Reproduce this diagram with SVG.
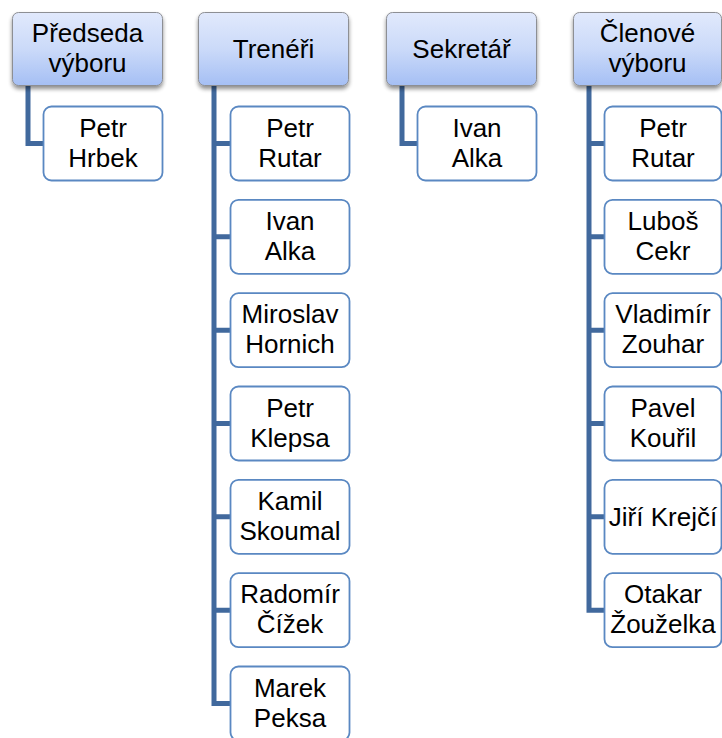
<svg xmlns="http://www.w3.org/2000/svg" width="722" height="738" viewBox="0 0 722 738">
<defs>
<linearGradient id="hg" x1="0" y1="0" x2="0" y2="1">
<stop offset="0" stop-color="#e1e9fc"/>
<stop offset="0.5" stop-color="#cbdaf9"/>
<stop offset="1" stop-color="#a5bff4"/>
</linearGradient>
<filter id="sh" x="-10%" y="-10%" width="120%" height="130%">
<feGaussianBlur in="SourceAlpha" stdDeviation="2"/>
<feOffset dx="0" dy="2.5" result="b"/>
<feComponentTransfer><feFuncA type="linear" slope="0.45"/></feComponentTransfer>
<feMerge><feMergeNode/><feMergeNode in="SourceGraphic"/></feMerge>
</filter>
</defs>
<style>
.hd{fill:url(#hg);stroke:#8d8f94;stroke-width:1;filter:url(#sh)}
.ch{fill:#ffffff;stroke:#5a88c2;stroke-width:1.8}
.t{font-family:"Liberation Sans",Arial,sans-serif;font-size:26px;fill:#000;text-anchor:middle}
.cn{fill:none;stroke:#41699d;stroke-width:5;stroke-linejoin:miter;stroke-linecap:butt}
</style>
<g id="connectors">
<path class="cn" d="M28 86 V143.5 H44"/>
<path class="cn" d="M214 86 V703.5 H231 M214 143.5 H231 M214 236.8 H231 M214 330.2 H231 M214 423.5 H231 M214 516.8 H231 M214 610.2 H231"/>
<path class="cn" d="M402 86 V143.5 H418"/>
<path class="cn" d="M589 86 V610.2 H605 M589 143.5 H605 M589 236.8 H605 M589 330.2 H605 M589 423.5 H605 M589 516.8 H605"/>
</g>
<g id="h1"><rect class="hd" x="12.5" y="12.5" width="150" height="73" rx="6"/><text class="t" x="87.5" y="42">Předseda</text><text class="t" x="87.5" y="72">výboru</text></g>
<g id="h2"><rect class="hd" x="198.5" y="12.5" width="150" height="73" rx="6"/><text class="t" x="273.5" y="58">Trenéři</text></g>
<g id="h3"><rect class="hd" x="386.5" y="12.5" width="150" height="73" rx="6"/><text class="t" x="461.5" y="58">Sekretář</text></g>
<g id="h4"><rect class="hd" x="573.5" y="12.5" width="148" height="73" rx="6"/><text class="t" x="647.5" y="42">Členové</text><text class="t" x="647.5" y="72">výboru</text></g>
<g id="c1-1"><rect class="ch" x="43.5" y="106.5" width="119" height="74" rx="8"/><text class="t" x="103" y="136.5">Petr</text><text class="t" x="103" y="166.5">Hrbek</text></g>
<g id="c2-1"><rect class="ch" x="230.5" y="106.5" width="119" height="74" rx="8"/><text class="t" x="290" y="136.5">Petr</text><text class="t" x="290" y="166.5">Rutar</text></g>
<g id="c2-2"><rect class="ch" x="230.5" y="199.8" width="119" height="74" rx="8"/><text class="t" x="290" y="229.8">Ivan</text><text class="t" x="290" y="259.8">Alka</text></g>
<g id="c2-3"><rect class="ch" x="230.5" y="293.2" width="119" height="74" rx="8"/><text class="t" x="290" y="323.2">Miroslav</text><text class="t" x="290" y="353.2">Hornich</text></g>
<g id="c2-4"><rect class="ch" x="230.5" y="386.5" width="119" height="74" rx="8"/><text class="t" x="290" y="416.5">Petr</text><text class="t" x="290" y="446.5">Klepsa</text></g>
<g id="c2-5"><rect class="ch" x="230.5" y="479.8" width="119" height="74" rx="8"/><text class="t" x="290" y="509.8">Kamil</text><text class="t" x="290" y="539.8">Skoumal</text></g>
<g id="c2-6"><rect class="ch" x="230.5" y="573.2" width="119" height="74" rx="8"/><text class="t" x="290" y="603.2">Radomír</text><text class="t" x="290" y="633.2">Čížek</text></g>
<g id="c2-7"><rect class="ch" x="230.5" y="666.5" width="119" height="74" rx="8"/><text class="t" x="290" y="696.5">Marek</text><text class="t" x="290" y="726.5">Peksa</text></g>
<g id="c3-1"><rect class="ch" x="417.5" y="106.5" width="119" height="74" rx="8"/><text class="t" x="477" y="136.5">Ivan</text><text class="t" x="477" y="166.5">Alka</text></g>
<g id="c4-1"><rect class="ch" x="604.5" y="106.5" width="117" height="74" rx="8"/><text class="t" x="663" y="136.5">Petr</text><text class="t" x="663" y="166.5">Rutar</text></g>
<g id="c4-2"><rect class="ch" x="604.5" y="199.8" width="117" height="74" rx="8"/><text class="t" x="663" y="229.8">Luboš</text><text class="t" x="663" y="259.8">Cekr</text></g>
<g id="c4-3"><rect class="ch" x="604.5" y="293.2" width="117" height="74" rx="8"/><text class="t" x="663" y="323.2">Vladimír</text><text class="t" x="663" y="353.2">Zouhar</text></g>
<g id="c4-4"><rect class="ch" x="604.5" y="386.5" width="117" height="74" rx="8"/><text class="t" x="663" y="416.5">Pavel</text><text class="t" x="663" y="446.5">Kouřil</text></g>
<g id="c4-5"><rect class="ch" x="604.5" y="479.8" width="117" height="74" rx="8"/><text class="t" x="663" y="525.8">Jiří Krejčí</text></g>
<g id="c4-6"><rect class="ch" x="604.5" y="573.2" width="117" height="74" rx="8"/><text class="t" x="663" y="603.2">Otakar</text><text class="t" x="663" y="633.2">Žouželka</text></g>
</svg>
